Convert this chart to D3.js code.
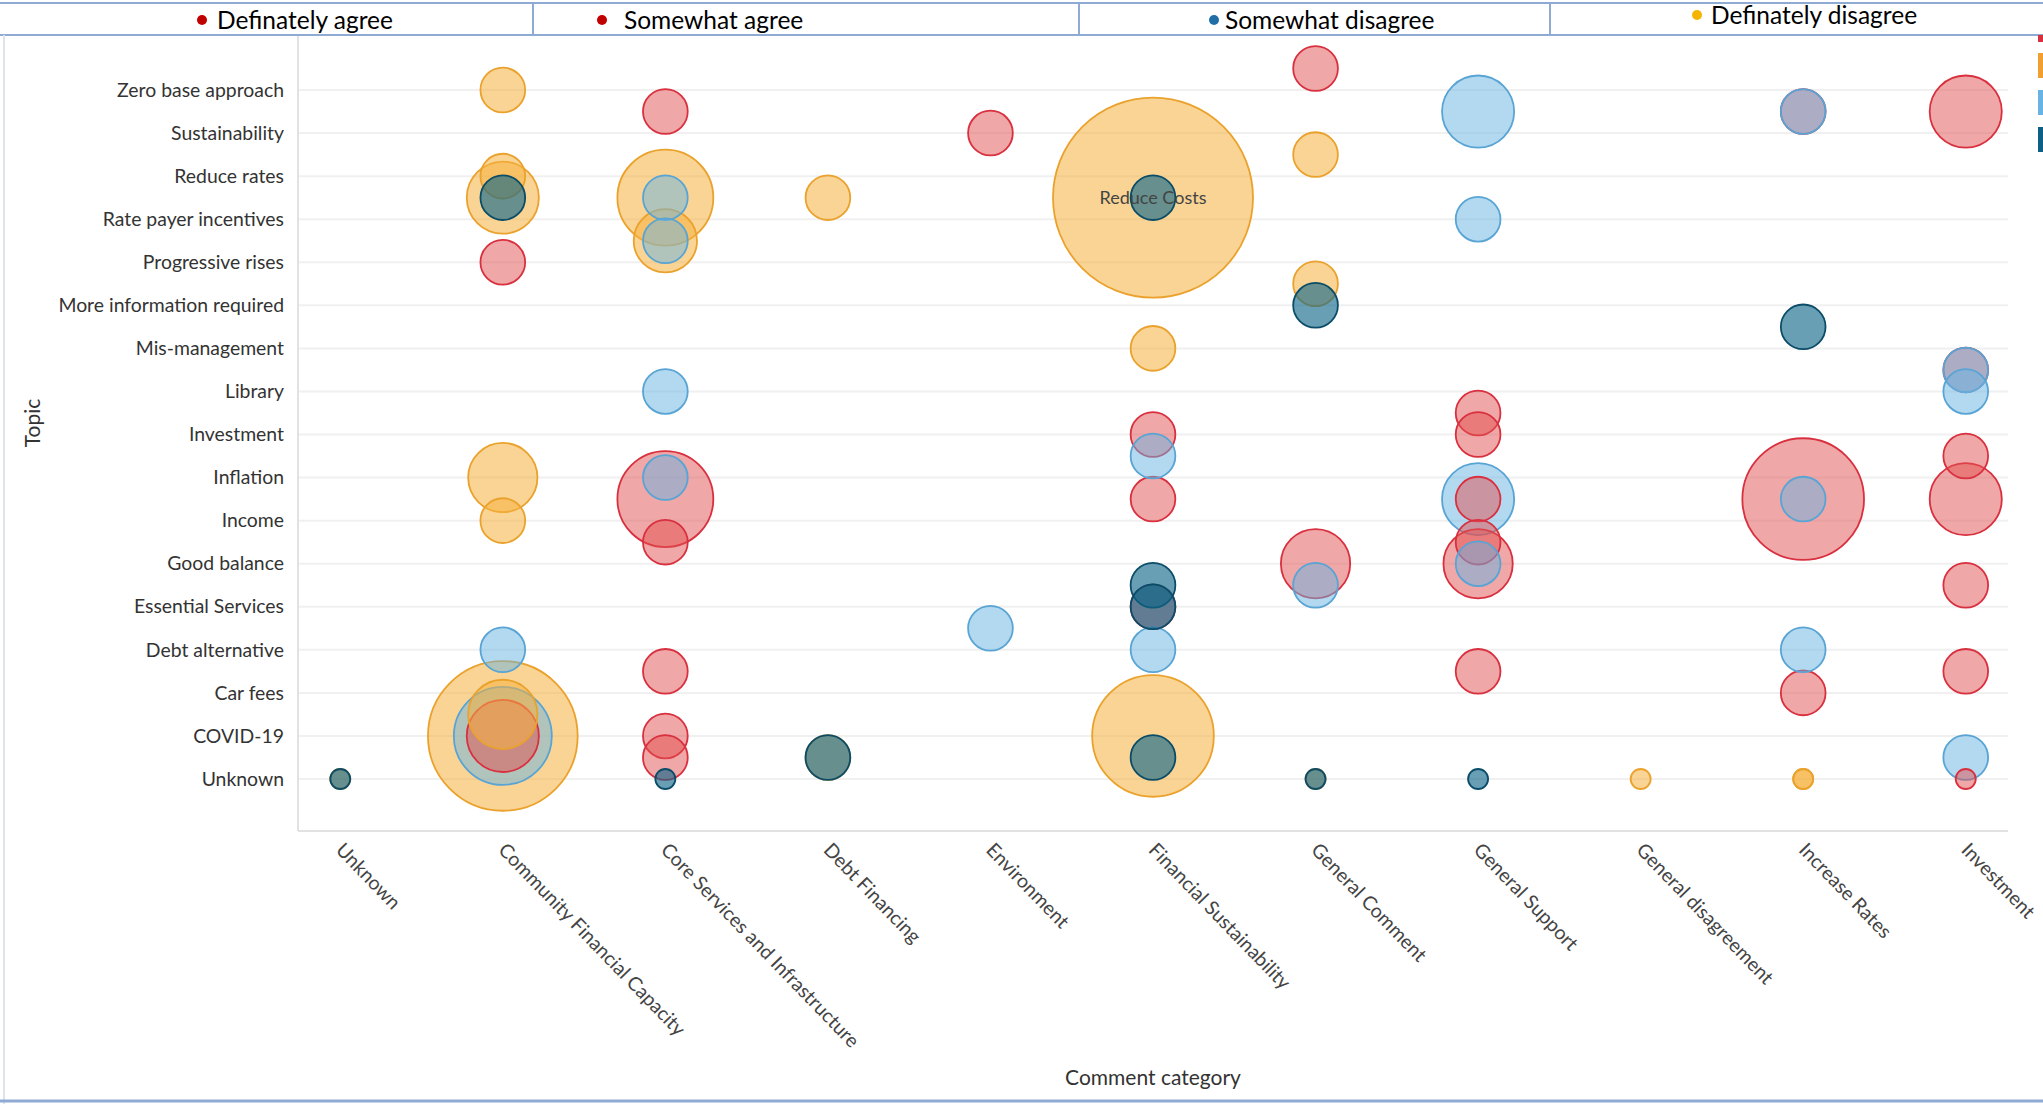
<!DOCTYPE html>
<html>
<head>
<meta charset="utf-8">
<script src="https://cdn.jsdelivr.net/npm/d3@7"></script>
<style>
  html, body { margin: 0; padding: 0; background: #fff; }
  svg { display: block; }
</style>
</head>
<body>
<svg id="chart" width="2043" height="1104"></svg>
<script>
// Comment categories along the x axis
const categories = [
  "Unknown", "Community Financial Capacity", "Core Services and Infrastructure",
  "Debt Financing", "Environment", "Financial Sustainability", "General Comment",
  "General Support", "General disagreement", "Increase Rates", "Investment"
];

// Topics down the y axis (row 0 at the top)
const topics = [
  "Zero base approach", "Sustainability", "Reduce rates", "Rate payer incentives",
  "Progressive rises", "More information required", "Mis-management", "Library",
  "Investment", "Inflation", "Income", "Good balance", "Essential Services",
  "Debt alternative", "Car fees", "COVID-19", "Unknown"
];

// Agreement levels shown in the header strip
const legendLabels = ["Definately agree", "Somewhat agree", "Somewhat disagree", "Definately disagree"];
const legendDotColors = ["#c00000", "#c00000", "#1f6fa6", "#f5b400"];

// Bubbles per series: [comment category, topic row position, count, label]
const definatelyAgree = [
  ["Community Financial Capacity", 4, 5],
  ["Community Financial Capacity", 15, 13],
  ["Core Services and Infrastructure", 0.5, 5],
  ["Core Services and Infrastructure", 9.5, 23],
  ["Core Services and Infrastructure", 10.5, 5],
  ["Core Services and Infrastructure", 13.5, 5],
  ["Core Services and Infrastructure", 15, 5],
  ["Core Services and Infrastructure", 15.5, 5],
  ["Environment", 1, 5],
  ["Financial Sustainability", 8, 5],
  ["Financial Sustainability", 9.5, 5],
  ["Financial Sustainability", 12, 5],
  ["General Comment", -0.5, 5],
  ["General Comment", 11, 12],
  ["General Support", 7.5, 5],
  ["General Support", 8, 5],
  ["General Support", 9.5, 5],
  ["General Support", 10.5, 5],
  ["General Support", 11, 12],
  ["General Support", 13.5, 5],
  ["Increase Rates", 0.5, 5],
  ["Increase Rates", 9.5, 37],
  ["Increase Rates", 14, 5],
  ["Investment", 0.5, 13],
  ["Investment", 6.5, 5],
  ["Investment", 8.5, 5],
  ["Investment", 9.5, 13],
  ["Investment", 11.5, 5],
  ["Investment", 13.5, 5],
  ["Investment", 16, 1]
];

const somewhatAgree = [
  ["Community Financial Capacity", 13, 5],
  ["Community Financial Capacity", 15, 24],
  ["Core Services and Infrastructure", 2.5, 5],
  ["Core Services and Infrastructure", 3.5, 5],
  ["Core Services and Infrastructure", 7, 5],
  ["Core Services and Infrastructure", 9, 5],
  ["Environment", 12.5, 5],
  ["Financial Sustainability", 8.5, 5],
  ["Financial Sustainability", 13, 5],
  ["General Comment", 11.5, 5],
  ["General Support", 0.5, 13],
  ["General Support", 3, 5],
  ["General Support", 9.5, 13],
  ["General Support", 11, 5],
  ["Increase Rates", 0.5, 5],
  ["Increase Rates", 9.5, 5],
  ["Increase Rates", 13, 5],
  ["Investment", 6.5, 5],
  ["Investment", 7, 5],
  ["Investment", 15.5, 5]
];

const somewhatDisagree = [
  ["Unknown", 16, 1],
  ["Community Financial Capacity", 2.5, 5],
  ["Core Services and Infrastructure", 16, 1],
  ["Debt Financing", 15.5, 5],
  ["Financial Sustainability", 2.5, 5],
  ["Financial Sustainability", 11.5, 5],
  ["Financial Sustainability", 12, 5],
  ["Financial Sustainability", 15.5, 5],
  ["General Comment", 5, 5],
  ["General Comment", 16, 1],
  ["General Support", 16, 1],
  ["Increase Rates", 5.5, 5]
];

const definatelyDisagree = [
  ["Unknown", 16, 1],
  ["Community Financial Capacity", 0, 5],
  ["Community Financial Capacity", 2, 5],
  ["Community Financial Capacity", 2.5, 13],
  ["Community Financial Capacity", 9, 12],
  ["Community Financial Capacity", 10, 5],
  ["Community Financial Capacity", 14.5, 12],
  ["Community Financial Capacity", 15, 56],
  ["Core Services and Infrastructure", 2.5, 23],
  ["Core Services and Infrastructure", 3.5, 10],
  ["Debt Financing", 2.5, 5],
  ["Debt Financing", 15.5, 5],
  ["Financial Sustainability", 2.5, 100, "Reduce Costs"],
  ["Financial Sustainability", 6, 5],
  ["Financial Sustainability", 15, 37],
  ["General Comment", 1.5, 5],
  ["General Comment", 4.5, 5],
  ["General Comment", 16, 1],
  ["General disagreement", 16, 1],
  ["Increase Rates", 16, 1],
  ["Increase Rates", 16, 1]
];

// Series styling; ties in size are stacked in this order
const series = [
  { key: "Definately disagree", rows: definatelyDisagree, fill: "#f5b03e", stroke: "#eaa22c", op: 0.55 },
  { key: "Definately agree",    rows: definatelyAgree,    fill: "#e2504f", stroke: "#d9303f", op: 0.5 },
  { key: "Somewhat agree",      rows: somewhatAgree,      fill: "#68b3e3", stroke: "#58a4d4", op: 0.5 },
  { key: "Somewhat disagree",   rows: somewhatDisagree,   fill: "#0c6488", stroke: "#0b4d68", op: 0.62 }
];

const svg = d3.select("#chart");
const W = 2043, H = 1104;
const FONT = "Lato, sans-serif";

// Plot frame
const plot = { left: 298, right: 2008, top: 35, bottom: 831 };

const x = d3.scalePoint().domain(categories).range([plot.left, plot.right]).padding(0.26);
const y = d3.scaleLinear().domain([0, topics.length - 1]).range([90, 779]);
const allValues = series.flatMap(s => s.rows.map(d => d[2]));
const r = d3.scaleSqrt().domain([0, d3.max(allValues)]).range([0, 100]);

// Horizontal guide lines at each topic row
svg.append("g")
  .selectAll("line")
  .data(d3.range(topics.length))
  .join("line")
  .attr("x1", plot.left).attr("x2", plot.right)
  .attr("y1", d => y(d)).attr("y2", d => y(d))
  .attr("stroke", "#f0f0f0").attr("stroke-width", 2);

// Axis lines
svg.append("line")
  .attr("x1", plot.left).attr("x2", plot.left)
  .attr("y1", plot.top).attr("y2", plot.bottom)
  .attr("stroke", "#e2e2e2").attr("stroke-width", 2);
svg.append("line")
  .attr("x1", plot.left).attr("x2", plot.right)
  .attr("y1", plot.bottom).attr("y2", plot.bottom)
  .attr("stroke", "#e2e2e2").attr("stroke-width", 2);

// Y axis labels
const yAxis = d3.axisLeft(y)
  .tickValues(d3.range(topics.length))
  .tickFormat(i => topics[i])
  .tickSize(0).tickPadding(14);
const gy = svg.append("g").attr("transform", `translate(${plot.left},0)`).call(yAxis);
gy.select(".domain").remove();
gy.selectAll("text")
  .attr("font-family", FONT)
  .attr("font-size", 19.4)
  .attr("fill", "#333");

// X axis labels, slanted
const xAxis = d3.axisBottom(x).tickSize(0).tickPadding(0);
const gx = svg.append("g").attr("transform", `translate(0,${plot.bottom})`).call(xAxis);
gx.select(".domain").remove();
gx.selectAll("text")
  .attr("font-family", FONT)
  .attr("font-size", 19.5)
  .attr("fill", "#444")
  .attr("text-anchor", "start")
  .attr("dy", "0")
  .attr("transform", "translate(-6,20) rotate(46)");

// Axis titles
svg.append("text")
  .attr("transform", "translate(40,423) rotate(-90)")
  .attr("text-anchor", "middle")
  .attr("font-family", FONT)
  .attr("font-size", 21)
  .attr("fill", "#333")
  .text("Topic");
svg.append("text")
  .attr("x", 1153).attr("y", 1085)
  .attr("text-anchor", "middle")
  .attr("font-family", FONT)
  .attr("font-size", 21)
  .attr("fill", "#333")
  .text("Comment category");

// Bubbles: every series in one layer, largest first so small ones stay visible
const order = series.map(s => s.key);
const marks = series.flatMap(s => s.rows.map(d => ({
  cat: d[0], row: d[1], value: d[2], label: d[3], s
})));
marks.sort((a, b) => (b.value - a.value) || (order.indexOf(a.s.key) - order.indexOf(b.s.key)));

svg.append("g")
  .selectAll("circle")
  .data(marks)
  .join("circle")
  .attr("cx", d => x(d.cat))
  .attr("cy", d => y(d.row))
  .attr("r", d => r(d.value))
  .attr("fill", d => d.s.fill)
  .attr("fill-opacity", d => d.s.op)
  .attr("stroke", d => d.s.stroke)
  .attr("stroke-width", 1.8);

// Bubble name labels
svg.append("g")
  .selectAll("text")
  .data(marks.filter(d => d.label))
  .join("text")
  .attr("x", d => x(d.cat))
  .attr("y", d => y(d.row))
  .attr("dy", "0.35em")
  .attr("text-anchor", "middle")
  .attr("font-family", FONT)
  .attr("font-size", 18)
  .attr("fill", "#444")
  .text(d => d.label);

// Header strip with the agreement legend
const frame = "#8faad3";
svg.append("line").attr("x1", 0).attr("x2", W).attr("y1", 3).attr("y2", 3)
  .attr("stroke", frame).attr("stroke-width", 2);
svg.append("line").attr("x1", 0).attr("x2", W).attr("y1", 35).attr("y2", 35)
  .attr("stroke", frame).attr("stroke-width", 2);
[533, 1079, 1550].forEach(px => {
  svg.append("line").attr("x1", px).attr("x2", px).attr("y1", 3).attr("y2", 35)
    .attr("stroke", frame).attr("stroke-width", 2);
});
svg.append("line").attr("x1", 4).attr("x2", 4).attr("y1", 35).attr("y2", H)
  .attr("stroke", "#dde3ec").attr("stroke-width", 2);
svg.append("line").attr("x1", 0).attr("x2", W).attr("y1", H - 3).attr("y2", H - 3)
  .attr("stroke", frame).attr("stroke-width", 3);

const legendPos = [
  { dot: 202, text: 217, y: 29 },
  { dot: 602, text: 624, y: 29 },
  { dot: 1214, text: 1225, y: 29 },
  { dot: 1697, text: 1711, y: 24 }
];
const legend = svg.append("g").selectAll("g")
  .data(legendLabels)
  .join("g");
legend.append("circle")
  .attr("cx", (d, i) => legendPos[i].dot)
  .attr("cy", (d, i) => legendPos[i].y - 9)
  .attr("r", 5)
  .attr("fill", (d, i) => legendDotColors[i]);
legend.append("text")
  .attr("x", (d, i) => legendPos[i].text)
  .attr("y", (d, i) => legendPos[i].y)
  .attr("font-family", FONT)
  .attr("font-size", 24.5)
  .attr("fill", "#000")
  .text(d => d);

// Series colour keys at the right edge
const keyStrip = [
  { y0: 35, y1: 42 }, { y0: 53, y1: 78 }, { y0: 90, y1: 115 }, { y0: 127, y1: 152 }
];
svg.append("g").selectAll("rect")
  .data(["#d9303f", "#f0a030", "#68b3e3", "#0c5f85"])
  .join("rect")
  .attr("x", 2038).attr("width", 5)
  .attr("y", (d, i) => keyStrip[i].y0)
  .attr("height", (d, i) => keyStrip[i].y1 - keyStrip[i].y0)
  .attr("fill", d => d);
</script>
</body>
</html>
